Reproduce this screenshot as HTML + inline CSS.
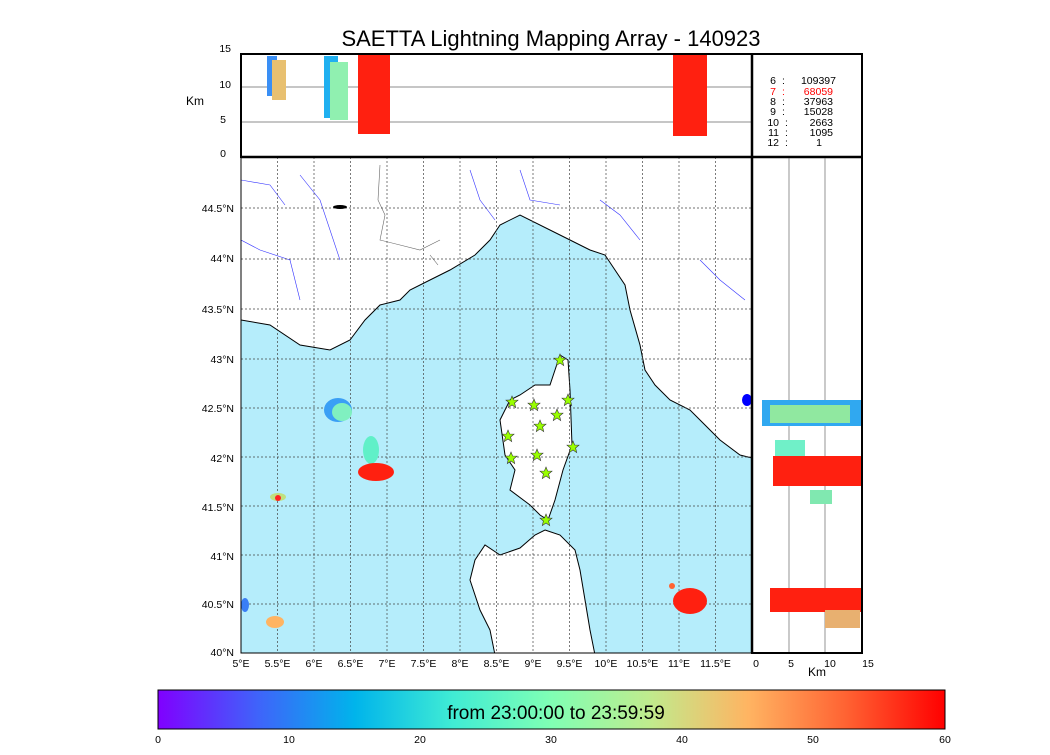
<!DOCTYPE html>
<html><head><meta charset="utf-8"><style>
body{margin:0;background:#fff;width:1050px;height:750px;overflow:hidden;font-family:"Liberation Sans",sans-serif}
</style></head><body>
<svg width="1050" height="750" xmlns="http://www.w3.org/2000/svg" font-family="Liberation Sans, sans-serif">
<defs>
<linearGradient id="rb" x1="0" x2="1" y1="0" y2="0">
<stop offset="0" stop-color="#8000ff"/><stop offset="0.125" stop-color="#4062fa"/>
<stop offset="0.25" stop-color="#00b4eb"/><stop offset="0.375" stop-color="#40ecd4"/>
<stop offset="0.5" stop-color="#80ffb4"/><stop offset="0.625" stop-color="#c0eb8d"/>
<stop offset="0.75" stop-color="#ffb462"/><stop offset="0.875" stop-color="#ff6232"/>
<stop offset="1" stop-color="#ff0000"/></linearGradient>
<clipPath id="mc"><rect x="241" y="157" width="511" height="496"/></clipPath>
<polygon id="st" points="0,-6 1.6,-2 6,-1.9 2.6,1 3.7,5.6 0,3 -3.7,5.6 -2.6,1 -6,-1.9 -1.6,-2" fill="#9f0" stroke="#333" stroke-width="0.6"/>
</defs>
<text x="551" y="46" font-size="22" text-anchor="middle">SAETTA Lightning Mapping Array - 140923</text>
<g clip-path="url(#mc)">
<rect x="241" y="157" width="511" height="496" fill="#b5edfb"/>
<polygon fill="#fff" stroke="#000" stroke-width="1" points="241,157 752,157 752,458 740,455 720,440 700,420 690,410 670,400 655,385 645,370 640,345 630,310 625,285 605,255 590,250 560,235 520,215 500,225 490,240 475,255 450,270 430,280 410,290 400,300 380,305 365,320 350,340 330,350 300,345 270,325 241,320"/>
<polygon fill="#fff" stroke="#000" stroke-width="1" points="560,355 568,360 570,390 572,445 563,470 555,500 548,520 540,515 530,505 510,490 515,470 505,455 500,420 510,400 520,395 535,385 550,385 555,370"/>
<polygon fill="#fff" stroke="#000" stroke-width="1" points="545,530 560,535 575,550 580,570 585,600 590,630 595,655 495,655 490,630 480,610 470,580 475,560 485,545 500,555 520,548 535,535"/>
<path d="M380,165 L378,200 L385,215 L380,240 L400,245 L420,250 L440,240 M430,255 L438,265" stroke="#666" stroke-width="0.6" fill="none"/>
<path d="M241,240 L260,250 L290,260 L300,300 M300,175 L320,200 L330,230 L340,260 M470,170 L480,200 L495,220 M520,170 L530,200 L560,205 M600,200 L620,215 L640,240 M700,260 L720,280 L745,300 M241,180 L270,185 L285,205" stroke="#33f" stroke-width="0.6" fill="none"/>
<g stroke="#444" stroke-width="0.7" stroke-dasharray="2,2">
<line x1="277.5" y1="157" x2="277.5" y2="653"/><line x1="314" y1="157" x2="314" y2="653"/><line x1="350.5" y1="157" x2="350.5" y2="653"/><line x1="387" y1="157" x2="387" y2="653"/><line x1="423.5" y1="157" x2="423.5" y2="653"/><line x1="460" y1="157" x2="460" y2="653"/><line x1="496.5" y1="157" x2="496.5" y2="653"/><line x1="533" y1="157" x2="533" y2="653"/><line x1="569.5" y1="157" x2="569.5" y2="653"/><line x1="606" y1="157" x2="606" y2="653"/><line x1="642.5" y1="157" x2="642.5" y2="653"/><line x1="679" y1="157" x2="679" y2="653"/><line x1="715.5" y1="157" x2="715.5" y2="653"/>
<line x1="241" y1="604" x2="752" y2="604"/><line x1="241" y1="555" x2="752" y2="555"/><line x1="241" y1="506" x2="752" y2="506"/><line x1="241" y1="457" x2="752" y2="457"/><line x1="241" y1="408" x2="752" y2="408"/><line x1="241" y1="359" x2="752" y2="359"/><line x1="241" y1="309" x2="752" y2="309"/><line x1="241" y1="259" x2="752" y2="259"/><line x1="241" y1="208" x2="752" y2="208"/>
</g>
<ellipse cx="338" cy="410" rx="14" ry="12" fill="#3a9ff5"/><ellipse cx="342" cy="412" rx="10" ry="9" fill="#80f0c0"/>
<ellipse cx="371" cy="450" rx="8" ry="14" fill="#60f0c8"/>
<ellipse cx="376" cy="472" rx="18" ry="9" fill="#ff2010"/>
<ellipse cx="278" cy="497" rx="8" ry="4" fill="#c0e080"/><circle cx="278" cy="498" r="3" fill="#f22"/>
<ellipse cx="245" cy="605" rx="4" ry="7" fill="#3a7ff5"/>
<ellipse cx="275" cy="622" rx="9" ry="6" fill="#ffb462"/>
<ellipse cx="690" cy="601" rx="17" ry="13" fill="#ff2010"/><ellipse cx="672" cy="586" rx="3" ry="3" fill="#ff6232"/>
<ellipse cx="747" cy="400" rx="5" ry="6" fill="#0000ff"/>
<ellipse cx="340" cy="207" rx="7" ry="2" fill="#000"/>
</g>
<rect x="241" y="157" width="511" height="496" fill="none" stroke="#000" stroke-width="1"/>
<g>
<use href="#st" x="560" y="360"/><use href="#st" x="512" y="402"/><use href="#st" x="534" y="405"/><use href="#st" x="568" y="400"/><use href="#st" x="557" y="415"/><use href="#st" x="540" y="426"/><use href="#st" x="508" y="436"/><use href="#st" x="573" y="447"/><use href="#st" x="537" y="455"/><use href="#st" x="511" y="458"/><use href="#st" x="546" y="473"/><use href="#st" x="546" y="520"/>
</g>
<g font-size="10.5" text-anchor="end">
<text x="234" y="212">44.5°N</text><text x="234" y="262">44°N</text><text x="234" y="313">43.5°N</text><text x="234" y="363">43°N</text><text x="234" y="412">42.5°N</text><text x="234" y="462">42°N</text><text x="234" y="511">41.5°N</text><text x="234" y="560">41°N</text><text x="234" y="608">40.5°N</text><text x="234" y="656">40°N</text>
</g>
<g font-size="10.5" text-anchor="middle">
<text x="241" y="667">5°E</text><text x="277.5" y="667">5.5°E</text><text x="314" y="667">6°E</text><text x="350.5" y="667">6.5°E</text><text x="387" y="667">7°E</text><text x="423.5" y="667">7.5°E</text><text x="460" y="667">8°E</text><text x="496.5" y="667">8.5°E</text><text x="533" y="667">9°E</text><text x="569.5" y="667">9.5°E</text><text x="606" y="667">10°E</text><text x="642.5" y="667">10.5°E</text><text x="679" y="667">11°E</text><text x="715.5" y="667">11.5°E</text>
<text x="756" y="667">0</text><text x="791" y="667">5</text><text x="830" y="667">10</text><text x="868" y="667">15</text>
<text x="817" y="676" font-size="12">Km</text>
</g>
<rect x="241" y="54" width="511" height="103" fill="#fff"/>
<line x1="241" y1="87" x2="752" y2="87" stroke="#666" stroke-width="0.7"/><line x1="241" y1="122" x2="752" y2="122" stroke="#666" stroke-width="0.7"/>
<rect x="267" y="56" width="10" height="40" fill="#3a8ff5"/><rect x="272" y="60" width="14" height="40" fill="#e8c070"/>
<rect x="324" y="56" width="14" height="62" fill="#20b0f0"/><rect x="330" y="62" width="18" height="58" fill="#90f0b0"/>
<rect x="358" y="54" width="32" height="80" fill="#ff2010"/>
<rect x="673" y="54" width="34" height="82" fill="#ff2010"/>
<rect x="241" y="54" width="621" height="103" fill="none" stroke="#000" stroke-width="2"/>
<line x1="752" y1="54" x2="752" y2="653" stroke="#000" stroke-width="2.5"/>
<line x1="241" y1="157" x2="862" y2="157" stroke="#000" stroke-width="2.5"/>
<g font-size="10.5" text-anchor="end"><text x="231" y="52">15</text><text x="231" y="88">10</text><text x="226" y="123">5</text><text x="226" y="157">0</text></g>
<text x="186" y="105" font-size="12">Km</text>
<g font-size="10.5">
<g text-anchor="end"><text x="776" y="84">6</text><text x="776" y="95" fill="#f00">7</text><text x="776" y="105">8</text><text x="776" y="115">9</text><text x="779" y="126">10</text><text x="779" y="136">11</text><text x="779" y="146">12</text></g>
<g><text x="782" y="84">:</text><text x="782" y="95" fill="#f00">:</text><text x="782" y="105">:</text><text x="782" y="115">:</text><text x="785" y="126">:</text><text x="785" y="136">:</text><text x="785" y="146">:</text></g>
<g text-anchor="end"><text x="836" y="84">109397</text><text x="833" y="95" fill="#f00">68059</text><text x="833" y="105">37963</text><text x="833" y="115">15028</text><text x="833" y="126">2663</text><text x="833" y="136">1095</text><text x="822" y="146">1</text></g>
</g>
<line x1="789" y1="157" x2="789" y2="653" stroke="#666" stroke-width="0.7"/><line x1="825" y1="157" x2="825" y2="653" stroke="#666" stroke-width="0.7"/>
<rect x="762" y="400" width="100" height="26" fill="#30a8f0"/><rect x="770" y="405" width="80" height="18" fill="#90e8a0"/>
<rect x="775" y="440" width="30" height="18" fill="#70f0c8"/>
<rect x="773" y="456" width="89" height="30" fill="#ff2010"/>
<rect x="810" y="490" width="22" height="14" fill="#80e8b0"/>
<rect x="770" y="588" width="92" height="24" fill="#ff2010"/><rect x="825" y="610" width="35" height="18" fill="#e8b070"/>
<rect x="752" y="157" width="110" height="496" fill="none" stroke="#000" stroke-width="2"/>
<rect x="158" y="690" width="787" height="39" fill="url(#rb)" stroke="#000" stroke-width="1"/>
<text x="556" y="719" font-size="19" text-anchor="middle">from 23:00:00 to 23:59:59</text>
<g font-size="10.5" text-anchor="middle"><text x="158" y="743">0</text><text x="289" y="743">10</text><text x="420" y="743">20</text><text x="551" y="743">30</text><text x="682" y="743">40</text><text x="813" y="743">50</text><text x="945" y="743">60</text></g>
</svg>
</body></html>
